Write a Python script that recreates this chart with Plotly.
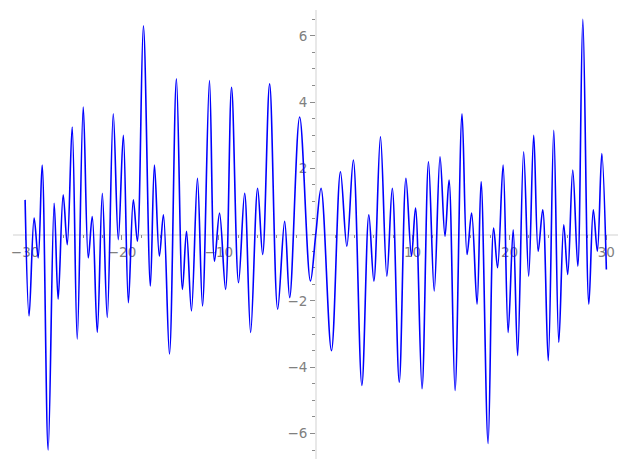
import plotly.graph_objects as go

# Local extrema (and end points)
x_vals = [-30.0, -29.59, -29.07, -28.65, -28.24, -27.62, -27.0, -26.59, -26.07, -25.65,
          -25.14, -24.62, -24.0, -23.48, -23.07, -22.55, -22.03, -21.52, -20.9, -20.38,
          -19.86, -19.34, -18.83, -18.41, -17.79, -17.07, -16.65, -16.14, -15.72, -15.1,
          -14.38, -13.76, -13.34, -12.83, -12.21, -11.69, -10.97, -10.45, -9.93, -9.31,
          -8.69, -7.97, -7.34, -6.72, -6.0, -5.48, -4.76, -3.93, -3.21, -2.69,
          -1.66, -0.55, 0.0, 0.55, 1.62, 2.55, 3.21, 3.88, 4.76, 5.48,
          6.0, 6.68, 7.34, 7.9, 8.62, 9.31, 9.88, 10.3, 10.97, 11.64,
          12.23, 12.83, 13.34, 13.76, 14.38, 15.1, 15.62, 16.09, 16.65, 17.07,
          17.79, 18.36, 18.77, 19.34, 19.86, 20.38, 20.84, 21.46, 21.98, 22.5,
          22.96, 23.43, 24.0, 24.57, 25.09, 25.6, 26.01, 26.53, 27.05, 27.57,
          28.19, 28.65, 29.07, 29.53, 30.0]
y_vals = [1.05, -2.45, 0.5, -0.7, 2.1, -6.5, 0.95, -1.95, 1.2, -0.3,
          3.25, -3.15, 3.85, -0.7, 0.55, -2.95, 1.25, -2.5, 3.65, -0.15,
          3.0, -2.05, 1.05, -0.2, 6.3, -1.55, 2.1, -0.65, 0.6, -3.6,
          4.7, -1.65, 0.1, -2.3, 1.7, -2.15, 4.65, -0.8, 0.65, -1.65,
          4.45, -1.45, 1.25, -2.95, 1.4, -0.6, 4.55, -2.25, 0.4, -1.9,
          3.55, -1.4, 0.0, 1.4, -3.5, 1.9, -0.35, 2.25, -4.55, 0.6,
          -1.4, 2.95, -1.25, 1.4, -4.45, 1.7, -0.65, 0.8, -4.65, 2.2,
          -1.7, 2.35, -0.05, 1.65, -4.7, 3.65, -0.6, 0.65, -2.1, 1.6,
          -6.3, 0.2, -1.0, 2.1, -2.95, 0.15, -3.65, 2.5, -1.25, 3.0,
          -0.5, 0.75, -3.8, 3.15, -3.25, 0.3, -1.2, 1.95, -0.95, 6.5,
          -2.1, 0.75, -0.5, 2.45, -1.05]

x_tickvals = [-30, -20, -10, 10, 20, 30]
x_ticktext = ["\u221230", "\u221220", "\u221210", "10", "20", "30"]
y_tickvals = [-6, -4, -2, 2, 4, 6]
y_ticktext = ["\u22126", "\u22124", "\u22122", "2", "4", "6"]

X_RANGE = [-31.25, 31.2]
Y_RANGE = [-6.77, 6.78]

fig = go.Figure()
fig.add_trace(go.Scatter(
    x=x_vals, y=y_vals, mode="lines",
    line=dict(color="#0000ff", width=1.6, shape="spline", smoothing=1.0),
    hoverinfo="skip", showlegend=False,
))

tick_font = dict(family="DejaVu Sans", size=13.5, color="#808080")
tick_col = "#8c8c8c"

fig.update_layout(
    width=619, height=462,
    margin=dict(l=5, r=9, t=2, b=11, autoexpand=False),
    paper_bgcolor="white", plot_bgcolor="white",
    xaxis=dict(
        range=X_RANGE, anchor="free",
        position=(0 - Y_RANGE[0]) / (Y_RANGE[1] - Y_RANGE[0]),
        automargin=False, layer="below traces",
        showgrid=False, zeroline=False,
        showline=True, linecolor="#e8e8e8", linewidth=1.5,
        tickvals=x_tickvals, ticktext=x_ticktext,
        ticks="outside", ticklen=5, tickcolor=tick_col, tickwidth=1,
        tickfont=tick_font,
        minor=dict(dtick=2, tick0=0, ticks="outside", ticklen=3,
                   tickcolor=tick_col, tickwidth=1, showgrid=False),
    ),
    yaxis=dict(
        range=Y_RANGE, anchor="free",
        position=(0 - X_RANGE[0]) / (X_RANGE[1] - X_RANGE[0]),
        automargin=False, layer="below traces",
        showgrid=False, zeroline=False,
        showline=True, linecolor="#e8e8e8", linewidth=1.5,
        tickvals=y_tickvals, ticktext=y_ticktext,
        ticks="outside", ticklen=5, tickcolor=tick_col, tickwidth=1,
        tickfont=tick_font,
        minor=dict(dtick=0.5, tick0=0, ticks="outside", ticklen=3,
                   tickcolor=tick_col, tickwidth=1, showgrid=False),
    ),
)

fig.write_html("out.html")
